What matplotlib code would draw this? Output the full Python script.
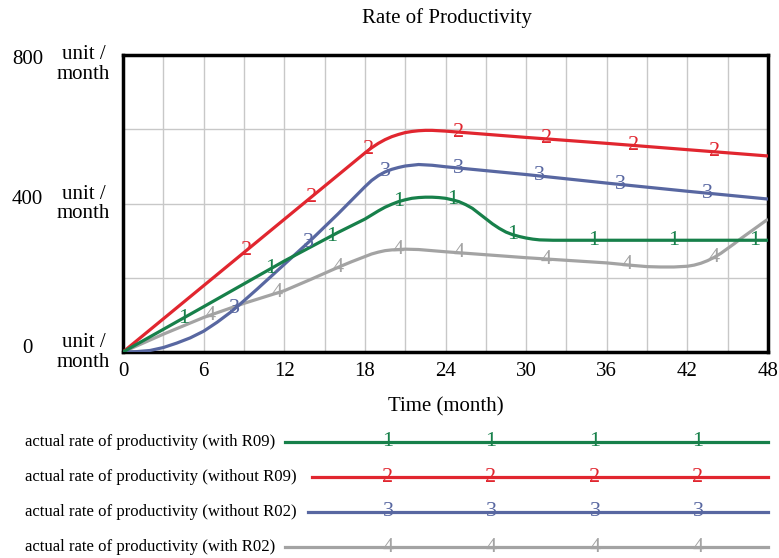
import numpy as np
import matplotlib.pyplot as plt

plt.rcParams['font.family'] = ['Liberation Serif', 'DejaVu Serif']

# data (time in months, value in unit/month)
t_green = [0, 6, 12, 16, 17, 18, 18.5, 19, 19.5, 20, 20.5, 21, 21.5, 22, 22.5, 23, 23.5, 24, 24.5, 25,
           25.5, 26, 26.5, 27, 27.5, 28, 28.5, 29, 29.5, 30, 30.5, 31, 32, 48]
v_green = [0, 122, 245, 322, 340, 358, 369, 380, 390, 398, 405, 410, 414, 416, 417, 417, 416, 414, 410, 405,
           397, 387, 373, 359, 345, 333, 323, 316, 311, 307, 304, 302, 301, 301]

t_red = [0, 9, 18, 18.5, 19, 19.5, 20, 20.5, 21, 21.5, 22, 22.5, 23, 23.5, 24, 30, 36, 42, 48]
v_red = [0, 268, 536, 550, 562, 572, 580, 586, 591, 594, 596, 597, 597, 596, 595, 578, 562, 545, 528]

t_blue = [0, 1, 2, 3, 4, 5, 6, 7, 8, 9, 10, 12, 14, 16, 18, 18.5, 19, 19.5, 20, 20.5, 21, 21.5, 22, 23, 24,
          30, 36, 42, 48]
v_blue = [0, 1, 4, 12, 24, 38, 56, 80, 107, 138, 170, 236, 302, 372, 445, 462, 475, 485, 492, 497, 501, 503,
          505, 503, 499, 478, 455, 433, 412]

t_gray = [0, 3, 6, 9, 12, 14, 16, 17, 18, 18.5, 19, 19.5, 20, 21, 22, 24, 30, 36, 38, 39, 40, 41, 42,
          42.5, 43, 43.5, 44, 44.5, 45, 45.5, 46, 47, 48]
v_gray = [0, 48, 93, 131, 165, 196, 228, 243, 257, 264, 269, 273, 275, 277, 276, 270, 254, 240, 233, 230, 229,
          229, 231, 234, 239, 246, 255, 266, 279, 292, 306, 332, 358]

# where the series numbers sit on each line
lab_green = [4.5, 11, 15.5, 20.5, 24.5, 29, 35, 41, 47]
lab_red = [9.2, 14, 18.3, 25, 31.5, 38, 44]
lab_blue = [8.3, 13.8, 19.5, 25, 31, 37, 43.5]
lab_gray = [6.5, 11.5, 16, 20.5, 25, 31.5, 37.5, 44]

names = ['actual rate of productivity (with R09)',
         'actual rate of productivity (without R09)',
         'actual rate of productivity (without R02)',
         'actual rate of productivity (with R02)']
colors = ['#17804a', '#e1262f', '#5867a1', '#a3a3a3']
series = [(t_green, v_green, lab_green), (t_red, v_red, lab_red),
          (t_blue, v_blue, lab_blue), (t_gray, v_gray, lab_gray)]

fig = plt.figure(figsize=(7.79, 5.58), dpi=100)
ax = fig.add_axes([123 / 779, 1 - 352 / 558, 645 / 779, 297 / 558])

# draw in reverse so green sits on top
order = [3, 2, 1, 0]
for i in order:
    t, v, labs = series[i]
    ax.plot(t, v, color=colors[i], lw=2.3, solid_capstyle='butt', solid_joinstyle='round', zorder=3)
for i in order:
    t, v, labs = series[i]
    for lt in labs:
        ax.text(lt, np.interp(lt, t, v), str(i + 1), color=colors[i], fontsize=16,
                ha='center', va='center', zorder=4)

ax.set_xlim(0, 48)
ax.set_ylim(0, 800)
ax.set_xticks(np.arange(0, 49, 3))
ax.set_yticks(np.arange(0, 801, 200))
ax.grid(True, color='#c8c8c8', lw=1)
ax.tick_params(length=0, labelbottom=False, labelleft=False)
for s in ax.spines.values():
    s.set_linewidth(2.5)
    s.set_color('black')

for x in range(0, 49, 6):
    ax.text(x, -26, str(x), ha='center', va='top', fontsize=15)
# (tick value, y of number, y of unit block)
for y, yn, yu in [(0, 10, -1), (400, 410, 399), (800, 787, 775)]:
    ax.text(-7.1, yn, str(y), ha='center', va='center', fontsize=15)
    ax.text(-2.95, yu, 'unit /\nmonth', ha='center', va='center', fontsize=15, linespacing=1.05)

fig.text(447 / 779, 1 - 18 / 558, 'Rate of Productivity', ha='center', va='center', fontsize=15)
fig.text(446 / 779, 1 - 407 / 558, 'Time (month)', ha='center', va='center', fontsize=15)

# legend drawn in a pixel-space axes
lg = fig.add_axes([0, 0, 1, 1], zorder=-1)
lg.set_xlim(0, 779)
lg.set_ylim(558, 0)
lg.axis('off')
leg_y = [442, 477, 512, 547]
leg_x0 = [285, 312, 308, 285]
leg_nums = [388, 491, 595, 698]
for i in range(4):
    lg.text(25, leg_y[i], names[i], ha='left', va='center', fontsize=12.1)
    lg.plot([leg_x0[i], 768], [leg_y[i], leg_y[i]], color=colors[i], lw=2.3)
    for nx in leg_nums:
        lg.text(nx, leg_y[i], str(i + 1), color=colors[i], fontsize=16, ha='center', va='center')

fig.savefig('out.png', dpi=100)
